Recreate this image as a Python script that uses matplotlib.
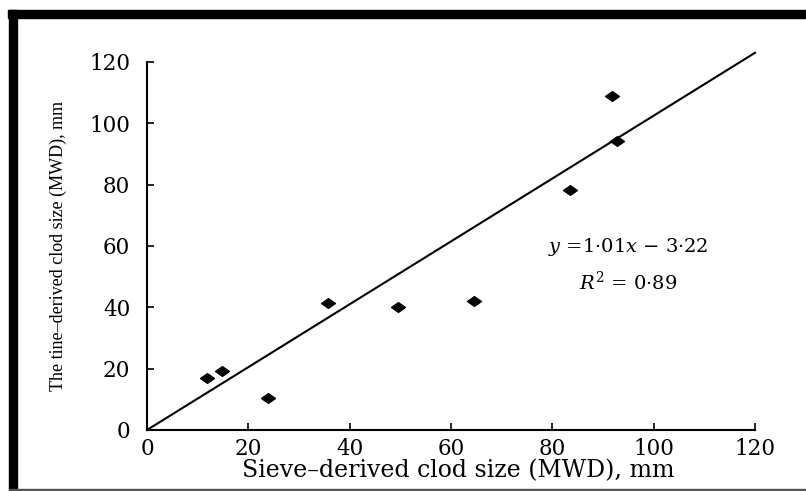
import matplotlib.pyplot as plt
from matplotlib.patches import Rectangle
from matplotlib.path import Path

plt.rcParams['font.family'] = 'DejaVu Serif'
plt.rcParams['mathtext.fontset'] = 'dejavuserif'

# data
sieve = [11.8, 14.8, 23.9, 35.7, 49.5, 64.5, 83.4, 91.7, 92.7]
tine = [17.0, 19.2, 10.4, 41.4, 40.1, 42.0, 78.3, 108.9, 94.2]
line_x = [0, 120]
line_y = [0, 123]
ticks = [0, 20, 40, 60, 80, 100, 120]

W, H = 806, 491
fig = plt.figure(figsize=(W / 100, H / 100), dpi=100)

# black frame around the picture
fig.patches.append(Rectangle((8 / W, 1 - 18 / H), 1, 8 / H, transform=fig.transFigure,
                             color='black', zorder=0))
fig.patches.append(Rectangle((9 / W, 1 - 490 / H), 8 / W, 480 / H, transform=fig.transFigure,
                             color='black', zorder=0))
fig.patches.append(Rectangle((9 / W, 0), 1, 2 / H, transform=fig.transFigure,
                             color='#555555', zorder=0))

ax = fig.add_axes([147 / W, 1 - 430 / H, 608 / W, 368 / H])

diamond = Path([(-1, 0), (0, 0.7), (1, 0), (0, -0.7), (-1, 0)],
               [Path.MOVETO, Path.LINETO, Path.LINETO, Path.LINETO, Path.CLOSEPOLY])
ax.plot(line_x, line_y, color='black', lw=1.5, zorder=2, clip_on=False)
ax.plot(sieve, tine, linestyle='none', marker=diamond, markersize=10,
        color='black', zorder=3)

ax.set_xlim(0, 120)
ax.set_ylim(0, 120)
ax.set_xticks(ticks)
ax.set_yticks(ticks)
ax.spines['top'].set_visible(False)
ax.spines['right'].set_visible(False)
ax.spines['left'].set_linewidth(1.5)
ax.spines['bottom'].set_linewidth(1.5)
ax.tick_params(direction='in', length=5, width=1.2, labelsize=15.5)
ax.tick_params(axis='x', pad=6)
ax.tick_params(axis='y', pad=12)

ax.set_xlabel('Sieve–derived clod size (MWD), mm', fontsize=17, labelpad=-1)
ax.xaxis.label.set_x(0.5115)
ax.set_ylabel('The tine–derived clod size (MWD), mm', fontsize=13,
              family='Liberation Serif', labelpad=16)

ax.text(94.9, 59.7, r'$y$ =1·01$x$ − 3·22', fontsize=14, ha='center', va='center')
ax.text(94.9, 48.3, r'$R^2$ = 0·89', fontsize=14, ha='center', va='center')

fig.savefig('out.png', dpi=100)
